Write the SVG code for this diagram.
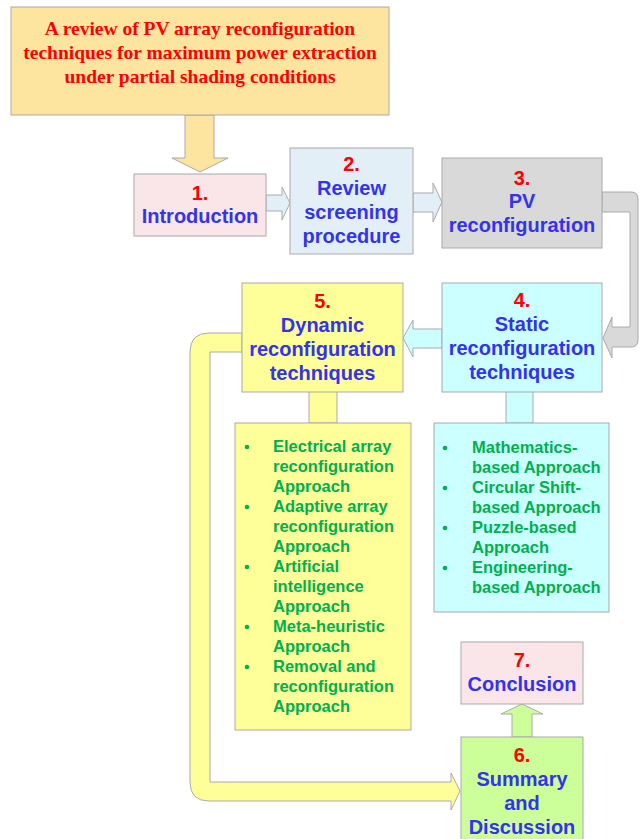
<svg xmlns="http://www.w3.org/2000/svg" width="639" height="839" viewBox="0 0 639 839">
  <style>
    .box { stroke: #aaaaaa; stroke-width: 1; }
    .pipe { stroke: #aaaaaa; stroke-width: 1; stroke-linejoin: miter; }
    .title { font-family: "Liberation Serif", "Times New Roman", serif; font-weight: bold; font-size: 19.5px; fill: #ff0000; text-anchor: middle; }
    .num { font-family: "Liberation Sans", Arial, sans-serif; font-weight: bold; font-size: 20px; fill: #ff0000; text-anchor: middle; }
    .head { font-family: "Liberation Sans", Arial, sans-serif; font-weight: bold; font-size: 20px; fill: #3333ee; text-anchor: middle; }
    .item { font-family: "Liberation Sans", Arial, sans-serif; font-weight: bold; font-size: 16.5px; fill: #00b050; }
    .dot { fill: #00b050; }
  </style>

  <!-- connectors -->
  <g id="connectors">
    <!-- title down to Introduction -->
    <polygon class="pipe" fill="#fde49f" points="185,115 214,115 214,158 228,158 200,172 172,158 185,158"/>
    <!-- 1 -> 2 -->
    <polygon class="pipe" fill="#e3eff7" points="266,195 282,195 282,187 290,203 282,220 282,211 266,211"/>
    <!-- 2 -> 3 -->
    <polygon class="pipe" fill="#e3eff7" points="413,193 433,193 433,183 442,202 433,222 433,212 413,212"/>
    <!-- 3 -> 4 (bent pipe on the right) -->
    <path class="pipe" fill="#d9d9d9" d="M602,192 L631,192 Q638,192 638,199 L638,340 Q638,347 631,347 L612,347 L612,358 L603,338 L612,317 L612,327 L630,327 L630,212 L602,212 Z"/>
    <!-- 4 -> 5 -->
    <polygon class="pipe" fill="#ccffff" points="442,329 413,329 413,320 403,338 413,357 413,348 442,348"/>
    <!-- 4 stem to its list -->
    <path class="pipe" fill="#ccffff" d="M506,392 L506,423 L533,423 L533,392"/>
    <!-- 5 stem to its list -->
    <path class="pipe" fill="#ffff99" d="M309,392 L309,423 L337,423 L337,392"/>
    <!-- 5 -> 6 (long bent pipe on the left) -->
    <path class="pipe" fill="#ffff99" d="M242,333 L209,333 Q190,333 190,352 L190,782 Q190,801 209,801 L451,801 L451,810 L460,791 L451,773 L451,782 L210,782 L210,352 L242,352 Z"/>
    <!-- 6 -> 7 -->
    <polygon class="pipe" fill="#ccff99" points="512,737 512,714 501,714 522,704 543,714 532,714 532,737"/>
  </g>

  <!-- title -->
  <g id="node-title">
    <rect class="box" x="11" y="7" width="378" height="108" fill="#fde49f"/>
    <text class="title" x="200" y="35">A review of PV array reconfiguration</text>
    <text class="title" x="200" y="59">techniques for maximum power extraction</text>
    <text class="title" x="200" y="83">under partial shading conditions</text>
  </g>

  <g id="node-1">
    <rect class="box" x="134" y="174" width="132" height="62" fill="#fae6e8"/>
    <text class="num" x="200" y="200">1.</text>
    <text class="head" x="200" y="223">Introduction</text>
  </g>

  <g id="node-2">
    <rect class="box" x="290" y="148" width="123" height="106" fill="#e3eff7"/>
    <text class="num" x="351.5" y="171">2.</text>
    <text class="head" x="351.5" y="195">Review</text>
    <text class="head" x="351.5" y="219">screening</text>
    <text class="head" x="351.5" y="243">procedure</text>
  </g>

  <g id="node-3">
    <rect class="box" x="442" y="158" width="160" height="90" fill="#d9d9d9"/>
    <text class="num" x="522" y="185">3.</text>
    <text class="head" x="522" y="208">PV</text>
    <text class="head" x="522" y="232">reconfiguration</text>
  </g>

  <g id="node-4">
    <rect class="box" x="442" y="283" width="160" height="109" fill="#ccffff"/>
    <text class="num" x="522" y="307">4.</text>
    <text class="head" x="522" y="331">Static</text>
    <text class="head" x="522" y="355">reconfiguration</text>
    <text class="head" x="522" y="379">techniques</text>
  </g>

  <g id="node-4-list">
    <rect class="box" x="434" y="423" width="175" height="189" fill="#ccffff"/>
    <circle class="dot" cx="445" cy="448" r="2.3"/>
    <circle class="dot" cx="445" cy="488" r="2.3"/>
    <circle class="dot" cx="445" cy="528" r="2.3"/>
    <circle class="dot" cx="445" cy="568" r="2.3"/>
    <text class="item" x="472" y="453">Mathematics-</text>
    <text class="item" x="472" y="473">based Approach</text>
    <text class="item" x="472" y="493">Circular Shift-</text>
    <text class="item" x="472" y="513">based Approach</text>
    <text class="item" x="472" y="533">Puzzle-based</text>
    <text class="item" x="472" y="553">Approach</text>
    <text class="item" x="472" y="573">Engineering-</text>
    <text class="item" x="472" y="593">based Approach</text>
  </g>

  <g id="node-5">
    <rect class="box" x="242" y="283" width="161" height="109" fill="#ffff99"/>
    <text class="num" x="322.5" y="308">5.</text>
    <text class="head" x="322.5" y="332">Dynamic</text>
    <text class="head" x="322.5" y="356">reconfiguration</text>
    <text class="head" x="322.5" y="380">techniques</text>
  </g>

  <g id="node-5-list">
    <rect class="box" x="235" y="423" width="176" height="307" fill="#ffff99"/>
    <circle class="dot" cx="247" cy="447" r="2.3"/>
    <circle class="dot" cx="247" cy="507" r="2.3"/>
    <circle class="dot" cx="247" cy="567" r="2.3"/>
    <circle class="dot" cx="247" cy="627" r="2.3"/>
    <circle class="dot" cx="247" cy="667" r="2.3"/>
    <text class="item" x="273" y="452">Electrical array</text>
    <text class="item" x="273" y="472">reconfiguration</text>
    <text class="item" x="273" y="492">Approach</text>
    <text class="item" x="273" y="512">Adaptive array</text>
    <text class="item" x="273" y="532">reconfiguration</text>
    <text class="item" x="273" y="552">Approach</text>
    <text class="item" x="273" y="572">Artificial</text>
    <text class="item" x="273" y="592">intelligence</text>
    <text class="item" x="273" y="612">Approach</text>
    <text class="item" x="273" y="632">Meta-heuristic</text>
    <text class="item" x="273" y="652">Approach</text>
    <text class="item" x="273" y="672">Removal and</text>
    <text class="item" x="273" y="692">reconfiguration</text>
    <text class="item" x="273" y="712">Approach</text>
  </g>

  <g id="node-7">
    <rect class="box" x="461" y="642" width="122" height="62" fill="#fae6e8"/>
    <text class="num" x="522" y="667">7.</text>
    <text class="head" x="522" y="691">Conclusion</text>
  </g>

  <g id="node-6">
    <rect class="box" x="461" y="737" width="122" height="110" fill="#ccff99"/>
    <text class="num" x="522" y="762">6.</text>
    <text class="head" x="522" y="786">Summary</text>
    <text class="head" x="522" y="810">and</text>
    <text class="head" x="522" y="834">Discussion</text>
  </g>
</svg>
